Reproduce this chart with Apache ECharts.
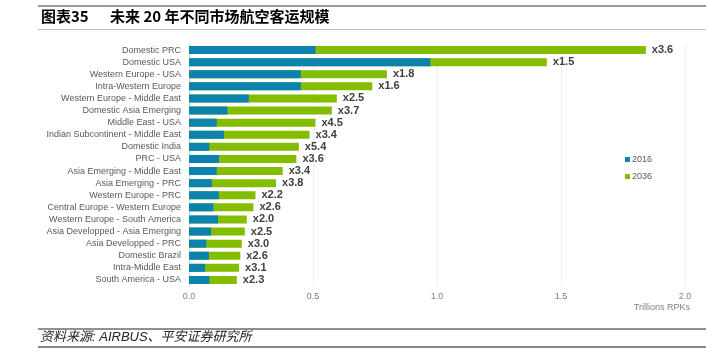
<!DOCTYPE html>
<html><head><meta charset="utf-8">
<script src="https://cdn.jsdelivr.net/npm/echarts@6/dist/echarts.min.js"></script>
<style>html,body{margin:0;padding:0;background:#fff}#c{width:706px;height:357px}</style>
</head><body><div id="c"></div>
<script>
const categories = ["Domestic PRC","Domestic USA","Western Europe - USA","Intra-Western Europe","Western Europe - Middle East","Domestic Asia Emerging","Middle East - USA","Indian Subcontinent - Middle East","Domestic India","PRC - USA","Asia Emerging - Middle East","Asia Emerging - PRC","Western Europe - PRC","Central Europe - Western Europe","Western Europe - South America","Asia Developped - Asia Emerging","Asia Developped - PRC","Domestic Brazil","Intra-Middle East","South America - USA"];
const values2016 = [0.510,0.973,0.451,0.451,0.241,0.155,0.112,0.141,0.082,0.121,0.112,0.092,0.120,0.098,0.117,0.089,0.070,0.080,0.065,0.082];
const values2036 = [1.842,1.443,0.798,0.739,0.596,0.576,0.510,0.486,0.443,0.433,0.378,0.351,0.268,0.260,0.233,0.225,0.213,0.207,0.202,0.193];
const growthLabels = ["x3.6","x1.5","x1.8","x1.6","x2.5","x3.7","x4.5","x3.4","x5.4","x3.6","x3.4","x3.8","x2.2","x2.6","x2.0","x2.5","x3.0","x2.6","x3.1","x2.3"];
const xTicks = ["0.0","0.5","1.0","1.5","2.0"];

const chart = echarts.init(document.getElementById('c'), null, {renderer:'canvas'});
const FF = '"Liberation Sans", Arial, sans-serif';
chart.setOption({
  animation:false,
  textStyle:{fontFamily:FF},
  grid:{left:189,right:21,top:44,bottom:71,containLabel:false},
  legend:{
    data:['2016','2036'], orient:'vertical', left:620, top:150,
    itemWidth:5,itemHeight:5,itemGap:8, icon:'rect',
    textStyle:{fontSize:9,color:'#595959',fontFamily:FF,padding:[0,0,0,-3]}
  },
  xAxis:{
    type:'value',min:0,max:2,interval:0.5,
    axisLine:{show:false},axisTick:{show:false},
    splitLine:{show:true,lineStyle:{color:'#f0f0f0',width:1}},
    axisLabel:{fontSize:9,color:'#7f7f7f',margin:6,formatter:(v)=>xTicks[Math.round(v/0.5)]}
  },
  yAxis:{
    type:'category',data:categories,inverse:true,
    axisLine:{show:true,lineStyle:{color:'#d9d9d9'}},axisTick:{show:false},
    axisLabel:{interval:0,fontSize:9,color:'#595959',margin:8}
  },
  graphic:[
    {type:'line',shape:{x1:38,y1:6,x2:706,y2:6},style:{stroke:'#333',lineWidth:1}},
    {type:'text',left:41,top:9,style:{text:'图表35',font:'bold 15px "Noto Sans CJK SC", sans-serif',fill:'#000'}},
    {type:'text',left:110,top:9,style:{text:'未来 20 年不同市场航空客运规模',font:'bold 15px "Noto Sans CJK SC", sans-serif',fill:'#000'}},
    {type:'line',shape:{x1:38,y1:29.5,x2:706,y2:29.5},style:{stroke:'#bbb',lineWidth:1}},
    {type:'text',right:16,top:303,style:{text:'Trillions RPKs',font:'9px '+FF,fill:'#7f7f7f'}},
    {type:'line',shape:{x1:38,y1:329,x2:706,y2:329},style:{stroke:'#222',lineWidth:1}},
    {type:'text',left:40,top:331,style:{text:'资料来源: AIRBUS、平安证券研究所',font:'italic 13px "Liberation Sans", "Noto Sans CJK SC", sans-serif',fill:'#222'}},
    {type:'line',shape:{x1:38,y1:347,x2:706,y2:347},style:{stroke:'#888',lineWidth:2}}
  ],
  series:[
    {name:'2036',type:'bar',data:values2036,barWidth:8,itemStyle:{color:'#84bd00'},z:2,
     label:{show:true,position:'right',distance:6,fontSize:11,fontWeight:'bold',color:'#404040',
       formatter:(p)=>growthLabels[p.dataIndex]}},
    {name:'2016',type:'bar',data:values2016,barWidth:8,barGap:'-100%',itemStyle:{color:'#0c82ae'},z:3}
  ]
});
</script></body></html>
